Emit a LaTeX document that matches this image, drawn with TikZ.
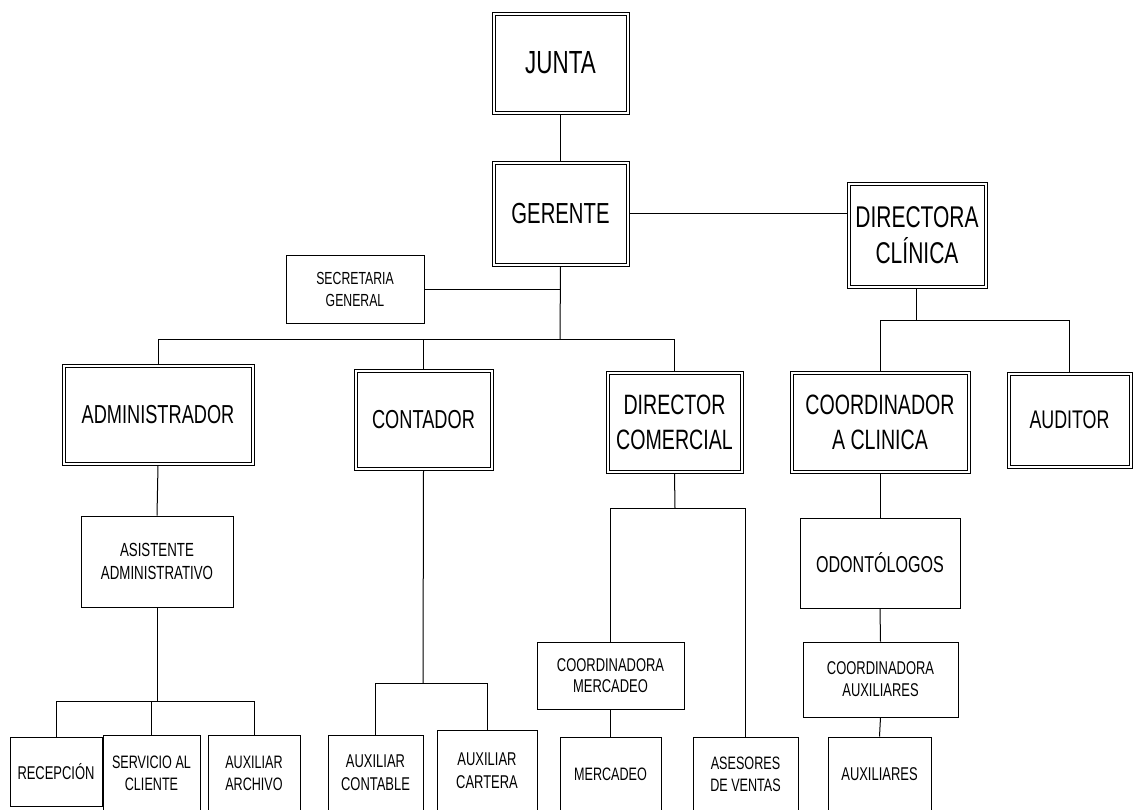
\documentclass[tikz,border=0pt]{standalone}
\usepackage{fontspec}
\newfontfamily\nar[FakeStretch=0.7]{Liberation Sans}
\begin{document}
\begin{tikzpicture}[x=1pt,y=-1pt,
  txt/.style 2 args={font=\nar\fontsize{#1}{#2}\selectfont},
  dbox/.style={draw, line width=0.9pt, inner sep=0pt, align=center, fill=white,
    path picture={\draw[line width=0.9pt]
      ([shift={(3pt,3pt)}]path picture bounding box.south west) rectangle
      ([shift={(-3pt,-3pt)}]path picture bounding box.north east);}},
  sbox/.style={draw, line width=1pt, inner sep=0pt, align=center, fill=white},
  wire/.style={line width=1pt}]
\useasboundingbox (0,0) rectangle (1133,809);
\fill[white] (0,0) rectangle (1133,809);
\clip (0,0) rectangle (1133,809);

% top level
\node[dbox, txt={32}{38}, minimum width=137, minimum height=102] (junta) at (560.5,63) {JUNTA};
\node[dbox, txt={29}{35}, minimum width=137, minimum height=105] (ger) at (560.5,213.5) {GERENTE};
\node[dbox, txt={30}{36}, minimum width=140, minimum height=106] (dirc) at (917,235) {DIRECTORA\\CLÍNICA};
\node[sbox, txt={17.5}{22}, minimum width=138, minimum height=68] (sec) at (355,289) {SECRETARIA\\GENERAL};

% second level
\node[dbox, txt={26}{31}, minimum width=192, minimum height=101] (adm) at (158,414.5) {ADMINISTRADOR};
\node[dbox, txt={26}{31}, minimum width=139, minimum height=101] (cont) at (423.5,419.5) {CONTADOR};
\node[dbox, txt={28}{35}, minimum width=137, minimum height=102] (dcom) at (674.5,422) {DIRECTOR\\COMERCIAL};
\node[dbox, txt={28}{35}, minimum width=180, minimum height=102] (coord) at (880,422) {COORDINADOR\\A CLINICA};
\node[dbox, txt={25.5}{31}, minimum width=125, minimum height=96] (aud) at (1069.5,420) {AUDITOR};

% lower levels
\node[sbox, txt={19}{23}, minimum width=152, minimum height=91] (asis) at (157,561.5) {ASISTENTE\\ADMINISTRATIVO};
\node[sbox, txt={23}{27}, minimum width=160, minimum height=90] (odon) at (880,563) {ODONTÓLOGOS};
\node[sbox, txt={18.5}{21.5}, minimum width=147, minimum height=67] (cmer) at (610.5,675.5) {COORDINADORA\\MERCADEO};
\node[sbox, txt={18.5}{22}, minimum width=155, minimum height=75] (caux) at (880.5,679.5) {COORDINADORA\\AUXILIARES};

% bottom row
\node[sbox, txt={18.5}{22}, minimum width=92, minimum height=69] (rec) at (56,771.5) {RECEPCIÓN};
\node[sbox, txt={18}{22}, minimum width=97, minimum height=76] (serv) at (151.5,773) {SERVICIO AL\\CLIENTE};
\node[sbox, txt={18}{22}, minimum width=92, minimum height=76] (arch) at (254,773) {AUXILIAR\\ARCHIVO};
\node[sbox, txt={18.5}{23}, minimum width=95, minimum height=76] (acon) at (375.5,773) {AUXILIAR\\CONTABLE};
\node[sbox, txt={18.5}{23}, minimum width=100, minimum height=81] (acar) at (487,770.5) {AUXILIAR\\CARTERA};
\node[sbox, txt={18}{22}, minimum width=101, minimum height=74] (merc) at (610.5,774) {MERCADEO};
\node[sbox, txt={18}{22}, minimum width=105, minimum height=74] (ases) at (745.5,774) {ASESORES\\DE VENTAS};
\node[sbox, txt={18.5}{22}, minimum width=103, minimum height=74] (auxs) at (879.5,774) {AUXILIARES};

% bus junctions
\coordinate (bg) at (560,339);
\coordinate (bd) at (916,320);
\coordinate (ba) at (157,701);
\coordinate (bc) at (423,683);
\coordinate (bm) at (675,508);

% connectors
\draw[wire] (junta) -- (ger);
\draw[wire] (ger.east) -- (ger.east -| dirc.west);
\draw[wire] (ger.south) -- (bg);
\draw[wire] (sec.east) -- (sec.east -| ger.south);
\draw[wire] (adm.north) |- (dcom.north |- bg) -- (dcom.north);
\draw[wire] (cont.north) -- (cont.north |- bg);

\draw[wire] (dirc.south -| bd) -- (bd);
\draw[wire] (coord.north) |- (aud.north |- bd) -- (aud.north);

\draw[wire] (adm.south) -- (asis.north);
\draw[wire] (asis.south) -- (ba);
\draw[wire] (rec.north) |- (arch.north |- ba) -- (arch.north);
\draw[wire] (serv.north) -- (serv.north |- ba);

\draw[wire] (cont.south) -- (bc);
\draw[wire] (acon.north) |- (acar.north |- bc) -- (acar.north);

\draw[wire] (dcom.south) -- (bm);
\draw[wire] (cmer.north) |- (ases.north |- bm) -- (ases.north);
\draw[wire] (cmer.south) -- (merc.north);

\draw[wire] (coord.south) -- (odon.north);
\draw[wire] (odon.south) -- (caux.north);
\draw[wire] (caux.south) -- (auxs.north);
\end{tikzpicture}
\end{document}
